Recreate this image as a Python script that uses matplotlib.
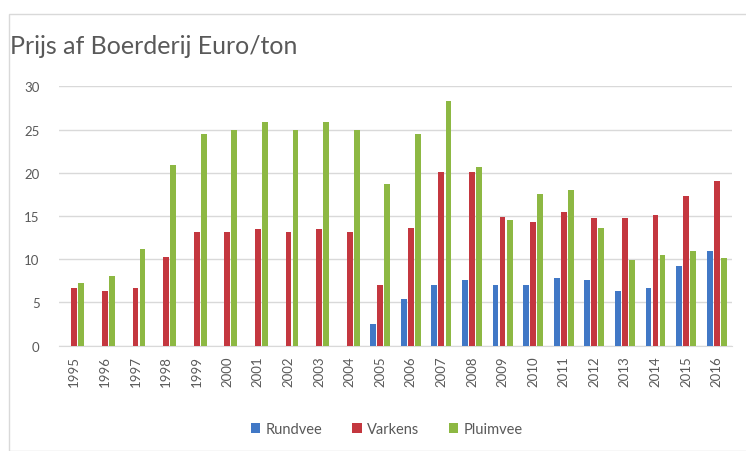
import numpy as np
import matplotlib
matplotlib.use("Agg")
import matplotlib.pyplot as plt
from matplotlib.patches import Rectangle

plt.rcParams['font.family'] = ['Lato', 'DejaVu Sans']

years = [str(y) for y in range(1995, 2017)]
rundvee = [np.nan]*10 + [2.5, 5.4, 7.0, 7.6, 7.0, 7.0, 7.8, 7.6, 6.3, 6.7, 9.2, 10.9]
varkens = [6.65, 6.3, 6.65, 10.3, 13.1, 13.1, 13.5, 13.1, 13.5, 13.1,
           7.0, 13.65, 20.1, 20.1, 14.9, 14.35, 15.45, 14.75, 14.75, 15.1, 17.3, 19.1]
pluimvee = [7.2, 8.1, 11.15, 20.85, 24.5, 25.0, 25.85, 25.0, 25.85, 25.0,
            18.7, 24.5, 28.35, 20.7, 14.5, 17.6, 18.0, 13.65, 9.9, 10.5, 10.9, 10.1]
series_names = ["Rundvee", "Varkens", "Pluimvee"]
colors = ["#4178C6", "#C4373F", "#8DB843"]
yticks = [0, 5, 10, 15, 20, 25, 30]

fig = plt.figure(figsize=(7.46, 4.52), dpi=100)
fig.patches.append(Rectangle((9/746, 0), 1, 1 - 15/452, transform=fig.transFigure,
                             fill=False, edgecolor="#d9d9d9", linewidth=1.0))
ax = fig.add_axes([59/746, 1 - 346.7/452, (732 - 59)/746, (346.7 - 87.3)/452])

x = np.arange(len(years))
w = 0.19
off = 0.23
for i, (vals, name, c) in enumerate(zip([rundvee, varkens, pluimvee], series_names, colors)):
    ax.bar(x + (i - 1) * off, vals, width=w, color=c, label=name, zorder=3)

ax.set_xlim(-0.5, len(years) - 0.5)
ax.set_ylim(0, 30)
ax.set_yticks(yticks)
ax.set_xticks(x)
ax.set_xticklabels(years, rotation=90)
ax.grid(axis='y', color="#d9d9d9", linewidth=1.0, zorder=0)
for s in ["top", "right", "left"]:
    ax.spines[s].set_visible(False)
ax.spines["bottom"].set_color("#d9d9d9")
ax.tick_params(axis='both', length=0, colors="#595959", labelsize=9.5)
ax.tick_params(axis='y', pad=14)
ax.tick_params(axis='x', pad=7)

fig.text(10/746, 1 - 47/452, "Prijs af Boerderij Euro/ton", fontsize=18,
         color="#595959", va="center", ha="left")

leg = fig.legend(loc="center", bbox_to_anchor=(387/746, 1 - 430/452), ncol=3,
                 frameon=False, fontsize=10.5, handlelength=0.65, handleheight=0.65,
                 columnspacing=2.0, handletextpad=0.4)
for t in leg.get_texts():
    t.set_color("#595959")

fig.savefig("out.png", dpi=100)
